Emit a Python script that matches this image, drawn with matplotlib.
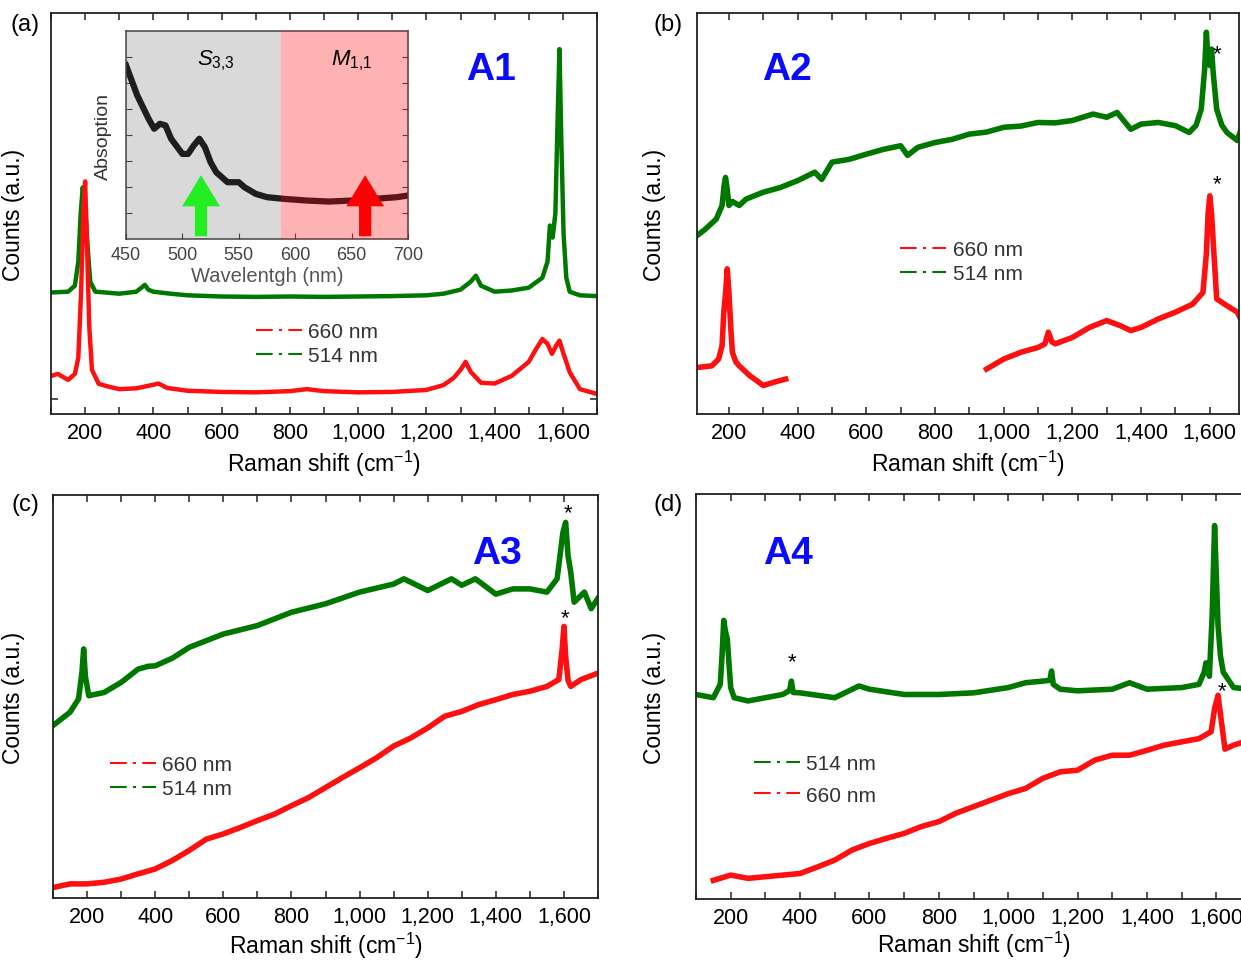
import numpy as np
import matplotlib
matplotlib.use("Agg")
import matplotlib.pyplot as plt
from matplotlib.lines import Line2D
from matplotlib.ticker import FuncFormatter, MultipleLocator

plt.rcParams['font.family'] = ['Liberation Sans', 'DejaVu Sans']
plt.rcParams['mathtext.fontset'] = 'custom'
plt.rcParams['mathtext.rm'] = 'Liberation Sans'
plt.rcParams['mathtext.it'] = 'Liberation Sans:italic'

RED = '#ff1010'
GREEN = '#007800'
nan = np.nan

# ---- panel (a), A1 ----
a_green_x = [100, 150, 170, 180, 187, 193, 200, 207, 215, 230, 260, 300, 350, 365, 375, 385, 400, 450, 500,
             600, 700, 800, 900, 1000, 1100, 1200, 1250, 1300, 1330, 1345, 1360, 1400, 1450, 1500, 1540, 1555,
             1562, 1570, 1578, 1585, 1590, 1595, 1602, 1610, 1620, 1650, 1700]
a_green_y = [30.3, 30.5, 32, 38, 50, 56.5, 52, 42, 33, 30.5, 30.3, 30, 30.5, 31.5, 32.2, 31, 30.5, 30, 29.6,
             29.3, 29.2, 29.3, 29.2, 29.3, 29.4, 29.6, 30, 31, 33, 34.5, 32, 30.5, 30.8, 31.5, 34, 38,
             47, 44, 50, 75, 91, 70, 45, 34, 30.5, 29.6, 29.4]
a_red_x = [100, 120, 150, 170, 180, 188, 195, 200, 205, 212, 220, 240, 270, 300, 350, 400, 415, 440, 500, 600,
           700, 800, 850, 900, 1000, 1100, 1200, 1250, 1280, 1300, 1315, 1330, 1360, 1400, 1450, 1500, 1520,
           1540, 1555, 1568, 1580, 1590, 1600, 1620, 1650, 1700]
a_red_y = [9.5, 10, 8.5, 10, 14, 30, 50, 58, 44, 22, 11, 7.5, 6.8, 6.2, 6.4, 7.3, 7.6, 6.5, 5.8, 5.5,
           5.4, 5.7, 6.2, 5.7, 5.4, 5.5, 6.0, 7.2, 9, 11, 13, 10.5, 7.8, 7.6, 9.5, 13, 16,
           18.7, 17.5, 15, 17, 18.3, 15.5, 10.4, 6.2, 5]

# inset absorption spectrum
abs_wl = [450, 460, 470, 475, 480, 485, 490, 500, 505, 510, 515, 520, 525, 530, 540, 550, 555, 565, 575,
          590, 610, 630, 650, 670, 690, 700]
abs_val = [83.5, 69, 57.8, 53, 55.4, 54.6, 48.2, 40.9, 40.9, 44.9, 48.2, 44.1, 36.9, 32.1, 27.3, 27.3, 24.9,
           21.7, 20.1, 19.3, 18.5, 18, 18.5, 19.3, 20.1, 20.9]

# ---- panel (b), A2 ----
b_green_x = [107, 130, 163, 180, 186, 190, 195, 200, 210, 230, 250, 300, 350, 400, 450, 470, 500, 550, 600,
             650, 700, 720, 750, 800, 850, 900, 950, 1000, 1050, 1100, 1150, 1200, 1260, 1300, 1330, 1370,
             1400, 1450, 1500, 1540, 1560, 1575, 1585, 1590, 1595, 1600, 1605, 1610, 1620, 1635, 1650, 1680,
             1690]
b_green_y = [44.5, 46, 48.6, 52, 57, 59, 56, 52, 53, 52, 53.6, 55.3, 56.5, 58.2, 60.3, 58.5, 62.8, 63.5, 64.8,
             66, 66.9, 64.5, 66.5, 67.7, 68.5, 69.8, 70.3, 71.5, 71.8, 72.7, 72.6, 73.2, 74.8, 74, 75.2, 71,
             72.3, 72.7, 71.9, 70.2, 72, 76, 86, 95.2, 88, 86.9, 91, 85, 76, 72, 70.2, 68.2,
             70.7]
b_red_x = [107, 130, 150, 170, 180, 185, 190, 195, 200, 205, 210, 220, 230, 260, 300, 330, 365, nan,
           950, 1000, 1050, 1100, 1120, 1130, 1140, 1150, 1200, 1250, 1300, 1340, 1370, 1400, 1450, 1500,
           1550, 1580, 1590, 1595, 1600, 1605, 1612, 1620, 1650, 1680, 1688]
b_red_y = [11.6, 11.8, 12, 13.7, 17, 25.4, 30, 36.2, 30.3, 22, 15.4, 13, 12, 9.6, 7.1, 7.9, 8.7, nan,
           11.2, 13.7, 15.4, 16.6, 17.5, 20.4, 18, 17.5, 19.1, 21.6, 23.3, 22, 20.8, 21.6, 23.7, 25.4,
           27.4, 30.3, 40, 50, 54.4, 50, 40, 28.7, 27, 25.4, 24]

# ---- panel (c), A3 ----
c_green_x = [100, 150, 175, 185, 190, 195, 205, 250, 300, 350, 380, 400, 450, 500, 600, 700, 800, 900, 1000,
             1100, 1130, 1200, 1270, 1300, 1340, 1400, 1450, 1500, 1550, 1580, 1590, 1597, 1605, 1612, 1620,
             1630, 1660, 1680, 1700]
c_green_y = [42.8, 46.1, 49.4, 56, 61.8, 55, 50.2, 51, 53.5, 56.8, 57.5, 57.6, 59.5, 62.2, 65.5, 67.6, 70.9,
             73, 75.9, 77.9, 79.2, 76.3, 79.2, 77.6, 79.2, 75.4, 76.7, 76.7, 75.9, 79.2, 86, 90.7, 93.2, 85,
             80.8, 73.4, 75.9, 71.8, 74.4]
c_red_x = [100, 150, 200, 250, 300, 350, 400, 450, 500, 550, 600, 650, 700, 750, 800, 850, 900, 950, 1000,
           1050, 1100, 1150, 1200, 1250, 1300, 1350, 1400, 1450, 1500, 1550, 1585, 1595, 1600, 1605, 1612,
           1620, 1650, 1700]
c_red_y = [2.6, 3.5, 3.5, 3.9, 4.7, 6, 7.2, 9.3, 11.8, 14.6, 15.9, 17.5, 19.2, 20.8, 22.9, 24.9, 27.4, 29.9,
           32.3, 34.8, 37.7, 39.7, 42.2, 45.1, 46.3, 48, 49.2, 50.5, 51.3, 52.5, 54.2, 62, 67.4, 60, 54,
           52.5, 54.2, 55.8]

# ---- panel (d), A4 ----
d_green_x = [100, 150, 170, 175, 180, 185, 190, 200, 210, 250, 300, 350, 370, 375, 380, 400, 500, 570, 600,
             700, 800, 900, 1000, 1050, 1100, 1120, 1125, 1130, 1150, 1200, 1300, 1350, 1400, 1500, 1550,
             1565, 1570, 1580, 1588, 1595, 1600, 1605, 1612, 1620, 1650, 1700]
d_green_y = [50.5, 49.7, 53, 60, 68.8, 66, 64.3, 52.2, 49.7, 48.9, 49.7, 50.5, 51.5, 53.8, 51, 50.9, 49.7,
             52.6, 51.8, 50.5, 50.5, 50.9, 52.2, 53.4, 53.8, 54, 56.3, 53, 51.8, 51.4, 51.8, 53.4, 51.8,
             52.2, 53, 56, 58.3, 55, 70, 92.2, 80, 67.5, 60, 56, 52.2, 51.8]
d_red_x = [150, 200, 250, 300, 400, 450, 500, 550, 600, 650, 700, 750, 800, 850, 900, 950, 1000, 1050, 1100,
           1150, 1200, 1250, 1300, 1350, 1400, 1450, 1500, 1550, 1585, 1595, 1605, 1615, 1625, 1650, 1700]
d_red_y = [4.6, 5.9, 5.1, 5.5, 6.3, 7.9, 9.6, 12.1, 13.7, 15, 16.2, 17.9, 19.1, 21.2, 22.8, 24.4, 26, 27.3,
           29.8, 31.4, 31.8, 34.3, 35.5, 35.5, 36.7, 38, 38.8, 39.6, 41.3, 47, 50.3, 43.6, 37, 38, 39.3]

W, H = 1241, 962
fig = plt.figure(figsize=(W / 100, H / 100), dpi=100)


def px_axes(left, top, right, bottom):
    return fig.add_axes([left / W, 1 - bottom / H, (right - left) / W, (bottom - top) / H])


def style(ax, xlim, ylabel_x, xpad=3):
    ax.set_xlim(*xlim)
    ax.set_ylim(0, 100)
    ax.xaxis.set_major_locator(MultipleLocator(200))
    ax.xaxis.set_minor_locator(MultipleLocator(100))
    ax.xaxis.set_major_formatter(FuncFormatter(lambda v, p: f'{int(v):,}'))
    ax.set_yticks([])
    ax.tick_params(which='both', direction='in', top=True, right=True, length=5, width=1.1,
                   labelsize=15.5, pad=6, color='#222222', labelleft=False)
    for s in ax.spines.values():
        s.set_linewidth(1.3)
        s.set_color('#222222')
    ax.set_xlabel('Raman shift (cm$^{\u22121}$)', fontsize=16.5, labelpad=xpad)
    ax.set_ylabel('Counts (a.u.)', fontsize=16.5)
    ax.yaxis.set_label_coords(ylabel_x, 0.5)


def spectra(ax, gx, gy, rx, ry, lw):
    ax.plot(gx, gy, color=GREEN, lw=lw, solid_joinstyle='round')
    ax.plot(rx, ry, color=RED, lw=lw, solid_joinstyle='round')


def legend(ax, order, loc, spacing):
    dash = (0, (8, 3, 1.5, 3))
    handles = {
        '660 nm': Line2D([], [], color=RED, ls=dash, lw=1.5),
        '514 nm': Line2D([], [], color=GREEN, ls=dash, lw=1.5),
    }
    leg = ax.legend([handles[k] for k in order], order, loc='upper left', bbox_to_anchor=loc,
                    frameon=False, fontsize=15, handlelength=2.2, handletextpad=0.3,
                    labelspacing=spacing, borderaxespad=0)
    for t in leg.get_texts():
        t.set_color('#333333')


def tag(ax, text, x, y):
    ax.text(x, y, text, transform=ax.transAxes, color='#0a0aff', fontsize=28, fontweight='bold',
            ha='center', va='center')


# (a)
ax_a = px_axes(51, 14, 597, 415)
spectra(ax_a, a_green_x, a_green_y, a_red_x, a_red_y, 3.2)
style(ax_a, (100, 1700), -0.048)
ax_a.set_yticks([3.7])
legend(ax_a, ['660 nm', '514 nm'], (0.36, 0.25), 0.25)
tag(ax_a, 'A1', 0.805, 0.86)

ins = px_axes(126, 32, 408, 240)
ins.axvspan(450, 587, color='#d9d9d9', zorder=0, lw=0)
ins.plot(abs_wl, abs_val, color='#1e1e1e', lw=4.5, zorder=2)
ins.axvspan(587, 700, color='#ff0000', alpha=0.3, zorder=3, lw=0)
for wl, col in [(516.5, '#22ee22'), (662, '#ff0000')]:
    ins.annotate('', xy=(wl, 32), xytext=(wl, 0), zorder=4,
                 arrowprops=dict(arrowstyle='simple,head_width=1.7,tail_width=0.55,head_length=1.4',
                                 color=col, lw=0, mutation_scale=16))
ins.set_xlim(450, 700)
ins.set_ylim(0, 100)
ins.set_xticks([450, 500, 550, 600, 650, 700])
ins.set_yticks(np.arange(12.5, 100, 12.5))
ins.set_yticklabels([])
ins.tick_params(direction='in', right=True, length=4, labelsize=13, labelcolor='#444444',
                color='#444444', pad=5)
for s in ins.spines.values():
    s.set_color('#444444')
    s.set_linewidth(1.1)
ins.set_xlabel('Wavelentgh (nm)', fontsize=14.5, color='#555555', labelpad=2)
ins.set_ylabel('Absoption', fontsize=14, color='#333333', labelpad=5)
ins.text(0.32, 0.86, '$S_{3{,}3}$', transform=ins.transAxes, fontsize=16, ha='center', va='center')
ins.text(0.80, 0.86, '$M_{1{,}1}$', transform=ins.transAxes, fontsize=16, ha='center', va='center')

# (b)
ax_b = px_axes(697, 14, 1239, 415)
spectra(ax_b, b_green_x, b_green_y, b_red_x, b_red_y, 4)
style(ax_b, (107, 1685), -0.057)
legend(ax_b, ['660 nm', '514 nm'], (0.36, 0.455), 0.25)
tag(ax_b, 'A2', 0.165, 0.86)
ax_b.text(1620, 89.8, '*', fontsize=16, ha='center', va='center')
ax_b.text(1622, 57.4, '*', fontsize=16, ha='center', va='center')

# (c)
ax_c = px_axes(53, 496, 598, 899)
spectra(ax_c, c_green_x, c_green_y, c_red_x, c_red_y, 4)
style(ax_c, (100, 1700), -0.051, xpad=1.5)
legend(ax_c, ['660 nm', '514 nm'], (0.09, 0.375), 0.25)
tag(ax_c, 'A3', 0.815, 0.855)
ax_c.text(1612, 95.5, '*', fontsize=16, ha='center', va='center')
ax_c.text(1603, 69.6, '*', fontsize=16, ha='center', va='center')

# (d)
ax_d = px_axes(696, 495, 1251, 900)
spectra(ax_d, d_green_x, d_green_y, d_red_x, d_red_y, 4)
style(ax_d, (100, 1700), -0.054, xpad=0.5)
legend(ax_d, ['514 nm', '660 nm'], (0.09, 0.378), 0.6)
tag(ax_d, 'A4', 0.165, 0.855)
ax_d.text(378, 58.5, '*', fontsize=16, ha='center', va='center')
ax_d.text(1615, 51.5, '*', fontsize=16, ha='center', va='center')

for x, y, s in [(25, 25, '(a)'), (668, 25, '(b)'), (25, 505, '(c)'), (668, 505, '(d)')]:
    fig.text(x / W, 1 - y / H, s, fontsize=17, ha='center', va='center')

fig.savefig('out.png', dpi=100)
